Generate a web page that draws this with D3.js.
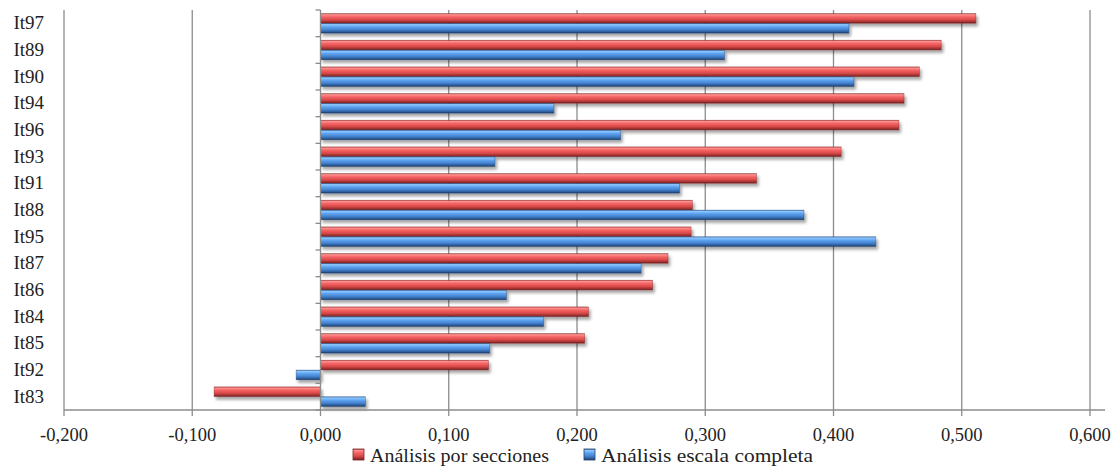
<!DOCTYPE html>
<html><head><meta charset="utf-8">
<script src="https://cdn.jsdelivr.net/npm/d3@7"></script>
<style>body{margin:0;background:#fff;} svg{display:block;}</style>
</head><body>
<svg id="chart" width="1118" height="466"></svg>
<script>
const categories = ["It97","It89","It90","It94","It96","It93","It91","It88","It95","It87","It86","It84","It85","It92","It83"];
const seccionesValues = [0.511,0.484,0.467,0.455,0.451,0.406,0.340,0.290,0.289,0.271,0.259,0.209,0.206,0.131,-0.083];
const completaValues  = [0.412,0.315,0.416,0.182,0.234,0.136,0.280,0.377,0.433,0.250,0.145,0.174,0.132,-0.019,0.035];
const xTicks = [-0.2,-0.1,0,0.1,0.2,0.3,0.4,0.5,0.6];
const seriesNames = ["Análisis por secciones","Análisis escala completa"];

const svg = d3.select("#chart");
const font = "'Liberation Serif','DejaVu Serif',serif";
const x = d3.scaleLinear().domain([-0.2,0.6]).range([64,1090]);
const y = d3.scaleBand().domain(categories).range([10,410]).paddingInner(0.25).paddingOuter(0.125);
const inner = d3.scaleBand().domain([0,1]).range([0,y.bandwidth()]).padding(0.02);
const step = y.step();

const defs = svg.append("defs");
function grad(id, stops){
  const g = defs.append("linearGradient").attr("id",id).attr("x1",0).attr("y1",0).attr("x2",0).attr("y2",1);
  stops.forEach(s=>g.append("stop").attr("offset",s[0]).attr("stop-color",s[1]));
}
grad("gRed",[[0,"#b84848"],[0.12,"#ff9090"],[0.35,"#f46363"],[0.65,"#d84a4a"],[0.85,"#a43232"],[1,"#6e1e1e"]]);
grad("gBlue",[[0,"#3f73b5"],[0.12,"#90c8ff"],[0.35,"#5ea4f0"],[0.65,"#4583d0"],[0.85,"#2f5f9e"],[1,"#1c3864"]]);
const f = defs.append("filter").attr("id","sh").attr("x","-5%").attr("y","-50%").attr("width","115%").attr("height","250%");
f.append("feDropShadow").attr("dx",2).attr("dy",3).attr("stdDeviation",1.6).attr("flood-color","#000").attr("flood-opacity",0.35);

// gridlines
svg.append("g").selectAll("line").data(xTicks.filter(d=>d!==0)).join("line")
  .attr("x1",d=>x(d)).attr("x2",d=>x(d)).attr("y1",10).attr("y2",410)
  .attr("stroke","#8c8c8c").attr("stroke-width",1.3);

// bars
const fills = ["url(#gRed)","url(#gBlue)"];
const strokes = ["#7a2626","#24426e"];
[seccionesValues, completaValues].forEach((vals,si)=>{
  svg.append("g").attr("filter","url(#sh)").selectAll("rect").data(vals).join("rect")
    .attr("x",d=>x(Math.min(0,d))).attr("width",d=>Math.abs(x(d)-x(0)))
    .attr("y",(d,i)=>y(categories[i])+inner(si)).attr("height",inner.bandwidth())
    .attr("fill",fills[si]).attr("stroke",strokes[si]).attr("stroke-width",0.6).attr("stroke-opacity",0.6);
});

// x axis
const axisG = svg.append("g");
axisG.append("line").attr("x1",64).attr("x2",1105).attr("y1",410).attr("y2",410).attr("stroke","#8c8c8c").attr("stroke-width",1.3);
axisG.selectAll("line.t").data(xTicks).join("line").attr("class","t")
  .attr("x1",d=>x(d)).attr("x2",d=>x(d)).attr("y1",410).attr("y2",416).attr("stroke","#8c8c8c").attr("stroke-width",1.3);
axisG.selectAll("text").data(xTicks).join("text")
  .attr("x",d=>x(d)).attr("y",441).attr("text-anchor","middle")
  .attr("font-family",font).attr("font-size",18.5).attr("fill","#222")
  .text(d=>d3.format(".3f")(d).replace("−","-").replace(".",","));

// y axis at zero
svg.append("line").attr("x1",x(0)).attr("x2",x(0)).attr("y1",10).attr("y2",410).attr("stroke","#8c8c8c").attr("stroke-width",1.3);
svg.append("g").selectAll("line").data(categories.concat(["_end"])).join("line")
  .attr("x1",x(0)-5).attr("x2",x(0))
  .attr("y1",(d,i)=>10+i*step).attr("y2",(d,i)=>10+i*step)
  .attr("stroke","#8c8c8c").attr("stroke-width",1.3);
svg.append("g").selectAll("text").data(categories).join("text")
  .attr("x",44).attr("y",d=>y(d)+y.bandwidth()/2+6).attr("text-anchor","end")
  .attr("font-family",font).attr("font-size",19).attr("fill","#222").text(d=>d);

// legend
const leg = svg.append("g");
const legX = [353,584];
const legW = [179,212];
seriesNames.forEach((n,i)=>{
  leg.append("rect").attr("x",legX[i]).attr("y",449).attr("width",11).attr("height",11)
    .attr("fill",fills[i]).attr("stroke",strokes[i]).attr("stroke-width",0.8);
  leg.append("text").attr("x",legX[i]+17).attr("y",462).attr("font-family",font).attr("font-size",18.5)
    .attr("textLength",legW[i]).attr("lengthAdjust","spacingAndGlyphs")
    .attr("fill","#222").text(n);
});
</script>
</body></html>
